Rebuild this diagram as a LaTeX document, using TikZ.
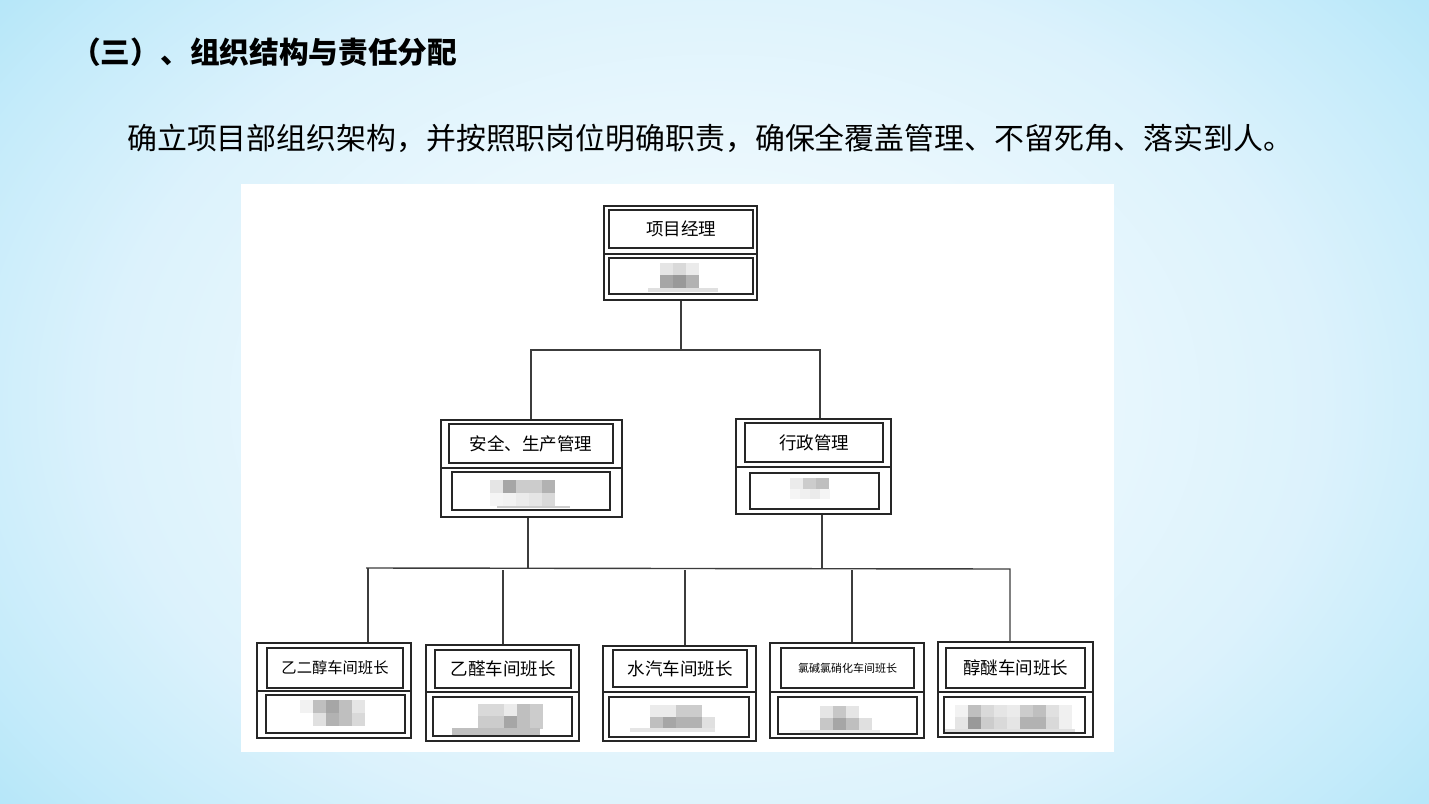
\documentclass[tikz,border=0pt]{standalone}
\usepackage{fontspec}
\newfontfamily\cjk{Noto Sans CJK SC}
\definecolor{bgA}{RGB}{245,252,255}
\definecolor{bgB}{RGB}{233,247,253}
\definecolor{bgC}{RGB}{220,242,252}
\definecolor{bgD}{RGB}{196,235,250}
\definecolor{bgE}{RGB}{168,226,247}
\definecolor{conn}{RGB}{60,60,60}
\pgfdeclareradialshading{bgsh}{\pgfpoint{0bp}{0bp}}{color(0bp)=(bgA); color(9bp)=(bgB); color(15bp)=(bgC); color(20bp)=(bgD); color(25bp)=(bgE); color(50bp)=(bgE)}
\newcommand\mosrow[4]{\foreach \g [count=\i from 0] in {#4} {\fill[black!\g] ({#1+\i*#3},#2) rectangle ++(#3,#3);}}
\begin{document}
\begin{tikzpicture}[x=1pt,y=-1pt,
  obox/.style={draw=black!85,line width=1.2pt,inner sep=0pt},
  lbox/.style={draw=black!85,line width=1.2pt,inner sep=0pt,font=\cjk\fontsize{17.5}{18}\selectfont},
  nbox/.style={draw=black!85,line width=1.2pt,inner sep=0pt},
  divl/.style={draw=black!85,line width=1.2pt},
  cline/.style={draw=conn,line width=1.4pt}]
\useasboundingbox (0,0) rectangle (1429,803);
\begin{scope}
\clip (0,0) rectangle (1429,803);
\shade[shading=bgsh] (-296,-322) rectangle (1725,1125);
\end{scope}
% white panel
\fill[white] (241,184) rectangle (1114,752);
% texts
\node[anchor=west,inner sep=0pt,font=\cjk\bfseries\fontsize{29.7}{31}\selectfont] (title) at (71,52) {（三）、组织结构与责任分配};
\node[anchor=west,inner sep=0pt,font=\cjk\fontsize{29.9}{31}\selectfont] (intro) at (127,138) {确立项目部组织架构，并按照职岗位明确职责，确保全覆盖管理、不留死角、落实到人。};

% mosaics (drawn first, boxes over)
\mosrow{660}{263}{13}{10,15,8}
\mosrow{660}{275}{13}{35,40,30}
\fill[black!12] (648,288) rectangle (718,292);
\mosrow{490}{480}{13}{10,35,20,20,30}
\mosrow{490}{493}{13}{4,5,8,10,15}
\fill[black!20] (497,506) rectangle (570,507.5);
\mosrow{790}{478}{13}{8,20,25}
\mosrow{790}{489}{10}{4,6,8,4}
\mosrow{300}{700}{13}{5,25,35,25,10}
\mosrow{300}{713}{13}{0,12,30,25,15}
\mosrow{478}{704}{13}{15,15,8,25,20}
\mosrow{478}{716}{13}{20,20,35,25,20}
\fill[black!25] (452,728) rectangle (540,735);
\mosrow{650}{705}{13}{8,8,20,20}
\mosrow{650}{717}{13}{25,35,30,30,12}
\fill[black!10] (630,728) rectangle (715,732);
\mosrow{820}{706}{13}{10,22,10}
\mosrow{820}{718}{13}{22,35,25,12}
\fill[black!8] (800,730) rectangle (880,733);
\mosrow{955}{705}{13}{5,25,15,10,8,20,25,12,6}
\mosrow{955}{717}{13}{10,40,20,15,10,30,30,15,6}
\fill[black!12] (945,729) rectangle (1075,733);

% project manager
\node[obox,minimum width=153,minimum height=94] (pm) at (680.5,253) {};
\node[lbox,minimum width=144,minimum height=38] (pml) at (681,229) {项目经理};
\coordinate (pmd) at (0,254);
\draw[divl] (pm.west |- pmd) -- (pm.east |- pmd);
\node[nbox,minimum width=144,minimum height=36] (pmn) at (681,276) {};

% safety & production
\node[obox,minimum width=181,minimum height=97] (sp) at (531.5,468.5) {};
\node[lbox,minimum width=164,minimum height=39] (spl) at (531,443.5) {安全、生产管理};
\coordinate (spd) at (0,468);
\draw[divl] (sp.west |- spd) -- (sp.east |- spd);
\node[nbox,minimum width=158,minimum height=38] (spn) at (531,491) {};

% administration
\node[obox,minimum width=155,minimum height=95] (ad) at (813.5,466.5) {};
\node[lbox,minimum width=138,minimum height=39] (adl) at (814,442.5) {行政管理};
\coordinate (add) at (0,467);
\draw[divl] (ad.west |- add) -- (ad.east |- add);
\node[nbox,minimum width=129,minimum height=36] (adn) at (814.5,491) {};

% bottom boxes
\node[obox,minimum width=154,minimum height=95] (b1) at (334,690.5) {};
\node[lbox,minimum width=136,minimum height=40,font=\cjk\fontsize{15.3}{16}\selectfont] (b1l) at (335,668) {乙二醇车间班长};
\node[nbox,minimum width=139,minimum height=38] (b1n) at (335.5,714) {};

\node[obox,minimum width=153,minimum height=96] (b2) at (502.5,693) {};
\node[lbox,minimum width=136,minimum height=38] (b2l) at (503,669) {乙醛车间班长};
\node[nbox,minimum width=139,minimum height=39] (b2n) at (502.5,716.5) {};

\node[obox,minimum width=153,minimum height=95] (b3) at (679.5,693.5) {};
\node[lbox,minimum width=134,minimum height=37] (b3l) at (680,668.5) {水汽车间班长};
\node[nbox,minimum width=140,minimum height=40] (b3n) at (679,717) {};

\node[obox,minimum width=154,minimum height=95] (b4) at (847,690.5) {};
\node[lbox,minimum width=133,minimum height=40,font=\cjk\fontsize{11}{12}\selectfont] (b4l) at (847.5,668) {氯碱氯硝化车间班长};
\node[nbox,minimum width=139,minimum height=37] (b4n) at (847.5,715.5) {};

\node[obox,minimum width=155,minimum height=95] (b5) at (1015.5,689.5) {};
\node[lbox,minimum width=139,minimum height=40] (b5l) at (1015.5,668) {醇醚车间班长};
\node[nbox,minimum width=141,minimum height=36] (b5n) at (1014.5,715) {};

\coordinate (d1) at (0,691);
\coordinate (d2) at (0,692);
\draw[divl] (b1.west |- d1) -- (b1.east |- d1);
\draw[divl] (b2.west |- d2) -- (b2.east |- d2);
\draw[divl] (b3.west |- d2) -- (b3.east |- d2);
\draw[divl] (b4.west |- d2) -- (b4.east |- d2);
\draw[divl] (b5.west |- d2) -- (b5.east |- d2);

% connectors
\coordinate (j1) at (681,350);
\coordinate (j1l) at (531,350);
\coordinate (j1r) at (820,350);
\draw[cline] (pm.south -| j1) -- (j1);
\draw[cline] (sp.north -| j1l) -- (j1l) -- (j1r) -- (ad.north -| j1r);

\coordinate (bl) at (366,568);
\coordinate (br) at (1010,569);
\coordinate (jsp) at (528,568);
\coordinate (jad) at (822,568);
\draw[cline] (sp.south -| jsp) -- (jsp);
\draw[cline] (ad.south -| jad) -- (jad);
\draw[cline] (bl) -- (br) -- (b5.north -| br);
\coordinate (k1) at (368,568);
\coordinate (k2) at (503,570);
\coordinate (k3) at (685,570);
\coordinate (k4) at (852,570);
\draw[cline] (k1) -- (b1.north -| k1);
\draw[cline] (k2) -- (b2.north -| k2);
\draw[cline] (k3) -- (b3.north -| k3);
\draw[cline] (k4) -- (b4.north -| k4);
\end{tikzpicture}
\end{document}
